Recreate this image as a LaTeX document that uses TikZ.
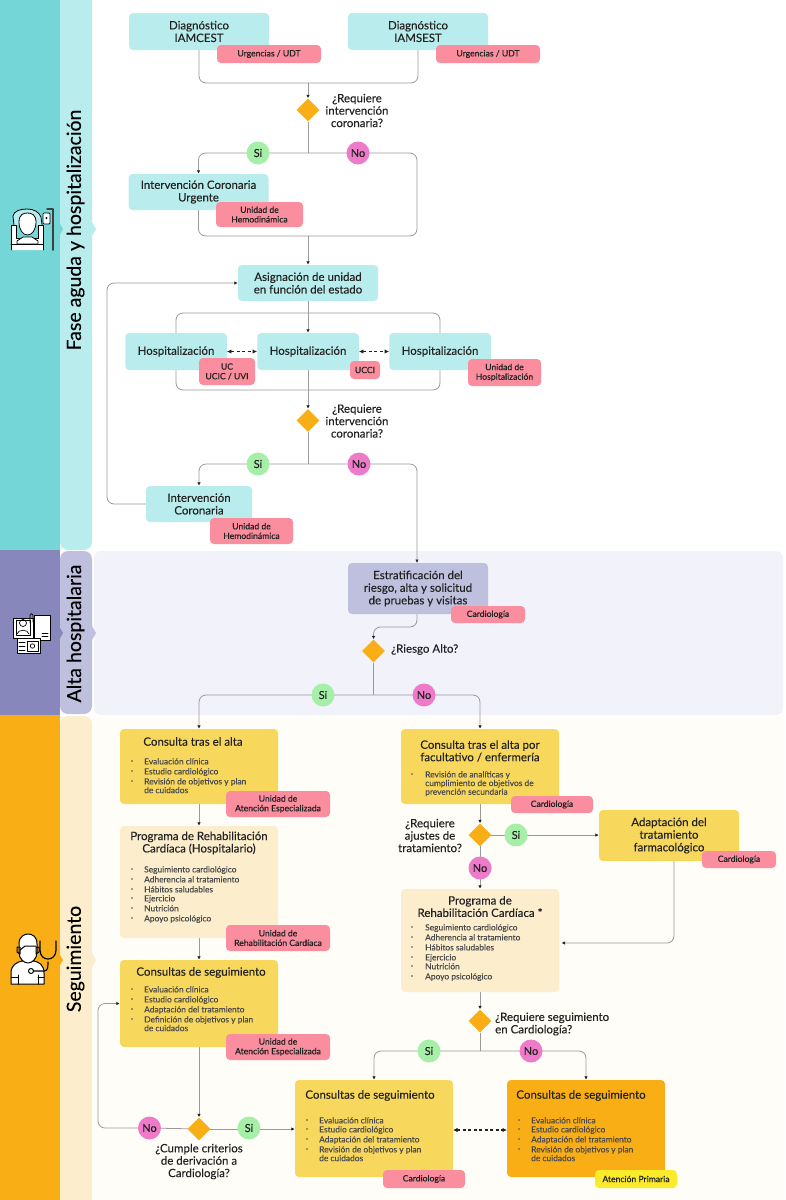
\documentclass[tikz,border=0pt]{standalone}
\usepackage{fontspec}
\setmainfont{Lato}[FakeBold=0.12]
\newfontfamily\tagfont{Lato}[FakeBold=0.4]
\usetikzlibrary{arrows.meta,backgrounds,shapes.geometric}

\definecolor{tealdark}{HTML}{75D6D8}
\definecolor{teallight}{HTML}{B9ECEC}
\definecolor{purpledark}{HTML}{8887BC}
\definecolor{purplelight}{HTML}{BFC0DE}
\definecolor{purplepanel}{HTML}{F2F2FA}
\definecolor{orangedark}{HTML}{F9AE16}
\definecolor{creamlight}{HTML}{FCEDCC}
\definecolor{creampanel}{HTML}{FFFDF8}
\definecolor{yellowbox}{HTML}{F8D75D}
\definecolor{tagred}{HTML}{FA8E9E}
\definecolor{tagyellow}{HTML}{FBEB2A}
\definecolor{yesgreen}{HTML}{A6EFA8}
\definecolor{nopink}{HTML}{EE7BC9}
\definecolor{inkdark}{HTML}{222222}
\definecolor{inkdim}{HTML}{4A4A4A}
\definecolor{linegray}{HTML}{9A9A9A}

\tikzset{
    box/.style={rounded corners=4pt, inner sep=0pt, align=center, text=inkdark,
        font=\fontsize{11.5}{12.6}\selectfont},
    tealbox/.style={box, fill=teallight},
    yellowcard/.style={box, fill=yellowbox},
    creamcard/.style={box, fill=creamlight},
    title/.style={inner sep=0pt, align=center, text=inkdark,
        font=\fontsize{11.5}{12.4}\selectfont},
    tag/.style={rounded corners=4pt, inner sep=0pt, align=center, fill=tagred, text=inkdark,
        font=\tagfont\fontsize{8.6}{9.6}\selectfont},
    question/.style={diamond, aspect=1, fill=orangedark, inner sep=0pt, minimum size=23pt},
    asktext/.style={inner sep=0pt, align=center, text=inkdark,
        font=\fontsize{11.5}{12.4}\selectfont},
    answer/.style={circle, inner sep=0pt, minimum size=23pt, text=inkdark,
        font=\fontsize{11}{12}\selectfont},
    yes/.style={answer, fill=yesgreen},
    nope/.style={answer, fill=nopink},
    listitem/.style={anchor=north west, inner sep=0pt, align=left, text=inkdim,
        font=\fontsize{8.4}{7}\selectfont},
    listdot/.style={circle, fill=inkdim, inner sep=0pt, minimum size=1.6pt},
    phase/.style={rotate=90, inner sep=0pt, text=black, font=\fontsize{19.5}{20}\selectfont},
    link/.style={draw=linegray, line width=0.8pt, rounded corners=7pt},
    arrowed/.style={link, -{Latex[length=3.5pt,width=3.5pt,color=inkdark]}},
    swap/.style={draw=inkdark, line width=1.1pt, dash pattern=on 3pt off 2.5pt,
        {Latex[length=4.5pt,width=4.5pt]}-{Latex[length=4.5pt,width=4.5pt]}},
    iconline/.style={draw=black, line width=1pt, line join=round, line cap=round}
}

\begin{document}
\begin{tikzpicture}[x=1pt, y=-1pt]
\useasboundingbox (0,0) rectangle (785,1200);

% Bands and panels behind everything
\begin{scope}[on background layer]
\fill[white] (0,0) rectangle (785,1200);
\fill[creampanel] (93,716) rectangle (785,1200);
\fill[purplepanel, rounded corners=7pt] (94,551) rectangle (783,715);
\fill[tealdark] (0,0) rectangle (59.5,550);
\fill[purpledark] (0,550) rectangle (59.5,715);
\fill[orangedark] (0,715) rectangle (59.5,1200);
\fill[teallight, rounded corners=8pt] (60,-10) rectangle (92,550);
\fill[purplelight, rounded corners=8pt] (60,551) rectangle (92,714);
\fill[creamlight, rounded corners=8pt] (60,716) rectangle (92,1215);
% Small chevrons
\foreach \y/\cola/\colb in {229/tealdark/teallight, 633/purpledark/purplelight, 960/orangedark/creamlight} {
    \fill[\cola] (59,\y-7) -- (63,\y) -- (59,\y+7) -- cycle;
    \fill[\colb] (92,\y-7) -- (96,\y) -- (92,\y+7) -- cycle;
}
\end{scope}

\node[phase] (fase) at (75.5,230) {Fase aguda y hospitalización};
\node[phase] (alta) at (75.5,633.5) {Alta hospitalaria};
\node[phase] (seguimiento) at (75.5,959) {Seguimiento};

% Acute phase boxes
\node[tealbox, minimum width=140pt, minimum height=37pt] (diagA) at (199,31.5) {Diagnóstico\\IAMCEST};
\node[tealbox, minimum width=140pt, minimum height=37pt] (diagB) at (418,31.5) {Diagnóstico\\IAMSEST};
\node[tealbox, minimum width=140pt, minimum height=36pt] (urgente) at (198.5,192) {Intervención Coronaria\\Urgente};
\node[tealbox, minimum width=140pt, minimum height=36pt] (asigna) at (308,283) {Asignación de unidad\\en función del estado};
\foreach \x/\n in {176/A, 308/B, 440/C} {
    \node[tealbox, minimum width=101.5pt, minimum height=37pt] (hosp\n) at (\x,351.5) {Hospitalización};
}
\node[tealbox, minimum width=106pt, minimum height=36pt] (coronaria) at (199,504) {Intervención\\Coronaria};

% Discharge
\node[box, fill=purplelight, minimum width=140pt, minimum height=51pt] (estrat) at (418,588.5) {Estratificación del\\riesgo, alta y solicitud\\de pruebas y visitas};

% Follow-up cards, left column
\node[yellowcard, minimum width=158pt, minimum height=75pt] (consultaA) at (199,766.5) {};
\node[creamcard, minimum width=158pt, minimum height=112pt] (rehabA) at (199,882) {};
\node[yellowcard, minimum width=158pt, minimum height=87pt] (seguirA) at (199,1003.5) {};
\node[title] (tituloA) at (193,741.5) {Consulta tras el alta};
\node[title] (tituloB) at (199,843) {Programa de Rehabilitación\\Cardíaca (Hospitalario)};
\node[title] (tituloC) at (201,972.5) {Consultas de seguimiento};

% Follow-up cards, right column
\node[yellowcard, minimum width=158pt, minimum height=75pt] (consultaB) at (480,766.5) {};
\node[yellowcard, minimum width=140pt, minimum height=51pt] (adapta) at (669,835.5) {Adaptación del\\tratamiento\\farmacológico};
\node[creamcard, minimum width=158pt, minimum height=103pt] (rehabB) at (480,940.5) {};
\node[yellowcard, minimum width=158pt, minimum height=97pt] (seguirB) at (374,1128.5) {};
\node[box, fill=orangedark, minimum width=158pt, minimum height=97pt] (seguirC) at (586,1128.5) {};
\node[title] (tituloD) at (480,751) {Consulta tras el alta por\\facultativo / enfermería};
\node[title] (tituloE) at (480,906.5) {Programa de\\Rehabilitación Cardíaca *};
\node[title] (tituloF) at (370,1095.5) {Consultas de seguimiento};
\node[title] (tituloG) at (581,1095.5) {Consultas de seguimiento};

% Bullet lists
\foreach \y/\txt [count=\i] in {761/Evaluación clínica, 771/Estudio cardiológico, 781/Revisión de objetivos y plan\\de cuidados} {
    \node[listitem] (listaA\i) at (144,\y-3) {\txt};
    \node[listdot] (puntoA\i) at (132,\y) {};
}
\foreach \y/\txt [count=\i] in {869/Seguimiento cardiológico, 879/Adherencia al tratamiento, 889/Hábitos saludables, 898/Ejercicio, 908/Nutrición, 918/Apoyo psicológico} {
    \node[listitem] (listaB\i) at (144,\y-3) {\txt};
    \node[listdot] (puntoB\i) at (132,\y) {};
}
\foreach \y/\txt [count=\i] in {989/Evaluación clínica, 999/Estudio cardiológico, 1009/Adaptación del tratamiento, 1019/Definición de objetivos y plan\\de cuidados} {
    \node[listitem] (listaC\i) at (144,\y-3) {\txt};
    \node[listdot] (puntoC\i) at (132,\y) {};
}
\foreach \y/\txt [count=\i] in {774/Revisión de analíticas y\\cumplimiento de objetivos de\\prevención secundaria} {
    \node[listitem] (listaD\i) at (425,\y-3) {\txt};
    \node[listdot] (puntoD\i) at (412,\y) {};
}
\foreach \y/\txt [count=\i] in {927/Seguimiento cardiológico, 937/Adherencia al tratamiento, 947/Hábitos saludables, 957/Ejercicio, 966/Nutrición, 976/Apoyo psicológico} {
    \node[listitem] (listaE\i) at (425,\y-3) {\txt};
    \node[listdot] (puntoE\i) at (412,\y) {};
}
\foreach \y/\txt [count=\i] in {1120/Evaluación clínica, 1129/Estudio cardiológico, 1139/Adaptación del tratamiento, 1149/Revisión de objetivos y plan\\de cuidados} {
    \node[listitem] (listaF\i) at (319,\y-3) {\txt};
    \node[listdot] (puntoF\i) at (307,\y) {};
    \node[listitem] (listaG\i) at (531,\y-3) {\txt};
    \node[listdot] (puntoG\i) at (519,\y) {};
}

% Department tags
\node[tag, minimum width=104pt, minimum height=18pt] (tagDiagA) at (269,54) {Urgencias / UDT};
\node[tag, minimum width=104pt, minimum height=18pt] (tagDiagB) at (488,54) {Urgencias / UDT};
\node[tag, minimum width=87pt, minimum height=25pt] (tagUrgente) at (259.5,214.5) {Unidad de\\Hemodinámica};
\node[tag, minimum width=56pt, minimum height=27pt] (tagHospA) at (227,371.5) {UC\\UCIC / UVI};
\node[tag, minimum width=30pt, minimum height=18pt] (tagHospB) at (365,370) {UCCI};
\node[tag, minimum width=73pt, minimum height=27pt] (tagHospC) at (504.5,372.5) {Unidad de\\Hospitalización};
\node[tag, minimum width=83pt, minimum height=26pt] (tagCoronaria) at (251.5,531) {Unidad de\\Hemodinámica};
\node[tag, minimum width=74pt, minimum height=17pt] (tagEstrat) at (488,614.5) {Cardiología};
\node[tag, minimum width=104pt, minimum height=26pt] (tagConsultaA) at (278,804) {Unidad de\\Atención Especializada};
\node[tag, minimum width=104pt, minimum height=26pt] (tagRehabA) at (278,938) {Unidad de\\Rehabilitación Cardíaca};
\node[tag, minimum width=104pt, minimum height=26pt] (tagSeguirA) at (278,1047) {Unidad de\\Atención Especializada};
\node[tag, minimum width=82pt, minimum height=17pt] (tagConsultaB) at (552,804.5) {Cardiología};
\node[tag, minimum width=74pt, minimum height=17pt] (tagAdapta) at (739,859.5) {Cardiología};
\node[tag, minimum width=82pt, minimum height=18pt] (tagSeguirB) at (424,1179) {Cardiología};
\node[tag, fill=tagyellow, minimum width=82pt, minimum height=18pt] (tagSeguirC) at (636,1179) {Atención Primaria};

% Decisions with their questions
\node[question] (preguntaA) at (308,110) {};
\node[asktext] (textoA) at (357,110.5) {¿Requiere\\intervención\\coronaria?};
\node[question] (preguntaB) at (308,420.5) {};
\node[asktext] (textoB) at (357,421) {¿Requiere\\intervención\\coronaria?};
\node[question] (preguntaC) at (373.5,651) {};
\node[asktext, anchor=west] (textoC) at (391,649.5) {¿Riesgo Alto?};
\node[question] (preguntaD) at (480,835) {};
\node[asktext] (textoD) at (430,835.5) {¿Requiere\\ajustes de\\tratamiento?};
\node[question] (preguntaE) at (480,1021) {};
\node[asktext, anchor=west, align=left] (textoE) at (495,1024) {¿Requiere seguimiento\\en Cardiología?};
\node[question] (preguntaF) at (199,1129) {};
\node[asktext] (textoF) at (199,1161.5) {¿Cumple criterios\\de derivación a\\Cardiología?};

% Answers
\node[yes] (siA) at (258,153) {Si};
\node[nope] (noA) at (358,153) {No};
\node[yes] (siB) at (258,464) {Si};
\node[nope] (noB) at (359,464) {No};
\node[yes] (siC) at (323,695) {Si};
\node[nope] (noC) at (424,695) {No};
\node[yes] (siD) at (516,835) {Si};
\node[nope] (noD) at (480,868) {No};
\node[yes] (siE) at (429,1051) {Si};
\node[nope] (noE) at (531,1051) {No};
\node[yes] (siF) at (249,1128) {Si};
\node[nope] (noF) at (149.5,1128) {No};

% Free corners of the connectors
\coordinate (juntaA) at (308,83);
\coordinate (juntaB) at (308,153);
\coordinate (esquinaA) at (417,153);
\coordinate (esquinaB) at (417,236);
\coordinate (juntaC) at (308,236);
\coordinate (marcoA) at (308,313);
\coordinate (marcoB) at (308,390);
\coordinate (juntaD) at (308,464);
\coordinate (esquinaC) at (417,464);
\coordinate (entraEstrat) at (417,563);
\coordinate (vueltaA) at (107,504);
\coordinate (vueltaB) at (107,283);
\coordinate (salidaEstrat) at (417,614);
\coordinate (bajaA) at (417,627);
\coordinate (bajaB) at (373.5,627);
\coordinate (juntaE) at (373.5,695);
\coordinate (vueltaC) at (98,1128);
\coordinate (vueltaD) at (98,1003.5);
\coordinate (salidaAdapta) at (674,861);
\coordinate (giroAdapta) at (674,943);
\coordinate (entraRehab) at (561.5,943);
\coordinate (juntaF) at (480,1051);
\coordinate (cambioA) at (453,1130);
\coordinate (cambioB) at (507,1130);

% Connectors
\begin{scope}[on background layer]
\draw[link] (diagA.south) |- (juntaA);
\draw[link] (diagB.south) |- (juntaA);
\draw[arrowed] (juntaA) -- (preguntaA.north);
\draw[link] (preguntaA.south) -- (juntaB);
\draw[arrowed] (juntaB) -- (siA.center) -| (urgente.north);
\draw[link] (juntaB) -- (noA.center) -- (esquinaA) -- (esquinaB) -- (juntaC);
\draw[link] (urgente.south) |- (juntaC);
\draw[arrowed] (juntaC) -- (asigna.north);
\draw[arrowed] (asigna.south) -- (hospB.north);
\draw[link] (hospA.north) |- (marcoA) -| (hospC.north);
\draw[link] (hospA.south) |- (marcoB) -| (hospC.south);
\draw[arrowed] (hospB.south) -- (preguntaB.north);
\draw[link] (preguntaB.south) -- (juntaD);
\draw[arrowed] (juntaD) -- (siB.center) -| (coronaria.north);
\draw[arrowed] (juntaD) -- (noB.center) -- (esquinaC) -- (entraEstrat);
\draw[arrowed] (coronaria.west) -- (vueltaA) -- (vueltaB) -- (asigna.west);
\draw[arrowed] (salidaEstrat) -- (bajaA) -- (bajaB) -- (preguntaC.north);
\draw[link] (preguntaC.south) -- (juntaE);
\draw[arrowed] (juntaE) -- (siC.center) -| (consultaA.north);
\draw[arrowed] (juntaE) -- (noC.center) -| (consultaB.north);
\draw[arrowed] (consultaA.south) -- (rehabA.north);
\draw[arrowed] (rehabA.south) -- (seguirA.north);
\draw[arrowed] (seguirA.south) -- (preguntaF.north);
\draw[arrowed] (preguntaF.center) -- (noF.center) -- (vueltaC) -- (vueltaD) -- (seguirA.west);
\draw[arrowed] (preguntaF.center) -- (seguirB.west |- preguntaF.center);
\draw[arrowed] (consultaB.south) -- (preguntaD.north);
\draw[arrowed] (preguntaD.center) -- (adapta.west |- preguntaD.center);
\draw[arrowed] (preguntaD.center) -- (rehabB.north);
\draw[arrowed] (salidaAdapta) -- (giroAdapta) -- (entraRehab);
\draw[arrowed] (rehabB.south) -- (preguntaE.north);
\draw[link] (preguntaE.south) -- (juntaF);
\draw[arrowed] (juntaF) -- (siE.center) -| (seguirB.north);
\draw[arrowed] (juntaF) -- (noE.center) -| (seguirC.north);
\end{scope}
\draw[swap] (hospA.east) -- (hospB.west);
\draw[swap] (hospB.east) -- (hospC.west);
\draw[swap] (cambioA) -- (cambioB);

% Patient icon
\begin{scope}[shift={(0,200)}]
\draw[iconline, line width=0.8pt, fill=teallight] (14,25) -- (13,16) .. controls (14,11) and (20,9) .. (27,9)
    .. controls (34,9) and (39,12) .. (41,17) -- (42,25);
\draw[iconline, line width=0.8pt, fill=white] (11,50) -- (11,25) -- (16,25) -- (16,38) -- (38,38) -- (38,25) -- (43,25) -- (43,50);
\draw[iconline, line width=0.8pt, fill=white] (17,41) -- (23,37) -- (32,37) -- (38,41) -- (38,44) -- (17,44) -- cycle;
\draw[iconline, line width=0.8pt, fill=white] (19,22) .. controls (19,14) and (24,13) .. (27.5,13)
    .. controls (32,13) and (36,15) .. (36,22) .. controls (36,30) and (32,35) .. (27.5,35) .. controls (23,35) and (19,30) .. (19,22) -- cycle;
\draw[iconline, line width=0.8pt] (11,44) -- (43,44);
\draw[iconline, line width=1.5pt, draw=black!75] (53,50) -- (53,9) -- (47,9);
\draw[iconline, line width=0.8pt, fill=white, rounded corners=1pt] (43,13) rectangle (50,24);
\fill[black] (46.5,18) circle (1.2);
\end{scope}

% Documents icon
\begin{scope}[shift={(0,605)}]
\draw[iconline, fill=white] (34,10) -- (50,10) -- (50,35) -- (34,35) -- cycle;
\draw[iconline, line width=0.6pt] (42,28) -- (48,28) (42,31) -- (48,31);
\draw[iconline, fill=white] (17,33) -- (40,33) -- (40,48) -- (17,48) -- cycle;
\draw[iconline, line width=0.6pt] (19,37) -- (25,37) (19,41) -- (25,41) (19,45) -- (25,45);
\draw[iconline, line width=0.7pt] (27,36) rectangle (38,46);
\draw[iconline, line width=0.7pt] (32.5,41) circle (2.2);
\draw[iconline, fill=white] (13,13) -- (33,13) -- (33,33) -- (13,33) -- cycle;
\draw[iconline, line width=0.7pt] (16,15.5) rectangle (30,30);
\draw[iconline, line width=0.7pt] (23,18) circle (3.5);
\draw[iconline, line width=0.7pt] (17,29) .. controls (18,24) and (28,24) .. (29,29);
\draw[iconline, line width=0.7pt] (30,18) -- (30,10) .. controls (30,8) and (33,8) .. (33,10) -- (33,17);
\end{scope}

% Doctor icon
\begin{scope}[shift={(0,930)}]
\draw[iconline, fill=white] (11,54) -- (11,43) .. controls (11,35) and (17,32) .. (22,31) -- (34,31)
    .. controls (39,32) and (44,35) .. (44,43) -- (44,54) -- cycle;
\draw[iconline] (18,54) -- (18,45) (38,54) -- (38,45) (11,47) -- (18,47) (38,47) -- (44,47);
\draw[iconline, fill=white] (19,14) .. controls (19,6) and (25,4) .. (28,4) .. controls (32,4) and (37,6) .. (37,14)
    -- (37,22) .. controls (37,29) and (32,33) .. (28,33) .. controls (24,33) and (19,29) .. (19,22) -- cycle;
\draw[iconline] (17,17) -- (20,17) -- (20,24) -- (17,22) -- cycle (39,17) -- (36,17) -- (36,24) -- (39,22) -- cycle;
\draw[iconline] (20,20) -- (25,16) -- (36,16);
\draw[iconline, fill=white] (31,41) circle (2.5);
\draw[iconline, line width=1.1pt] (33.5,41) -- (44,41) .. controls (48,41) and (48,37) .. (48,32);
\draw[iconline, line width=1.2pt] (40,11) -- (40,20) .. controls (40,32) and (56,32) .. (56,20) -- (56,11);
\end{scope}

\end{tikzpicture}
\end{document}
